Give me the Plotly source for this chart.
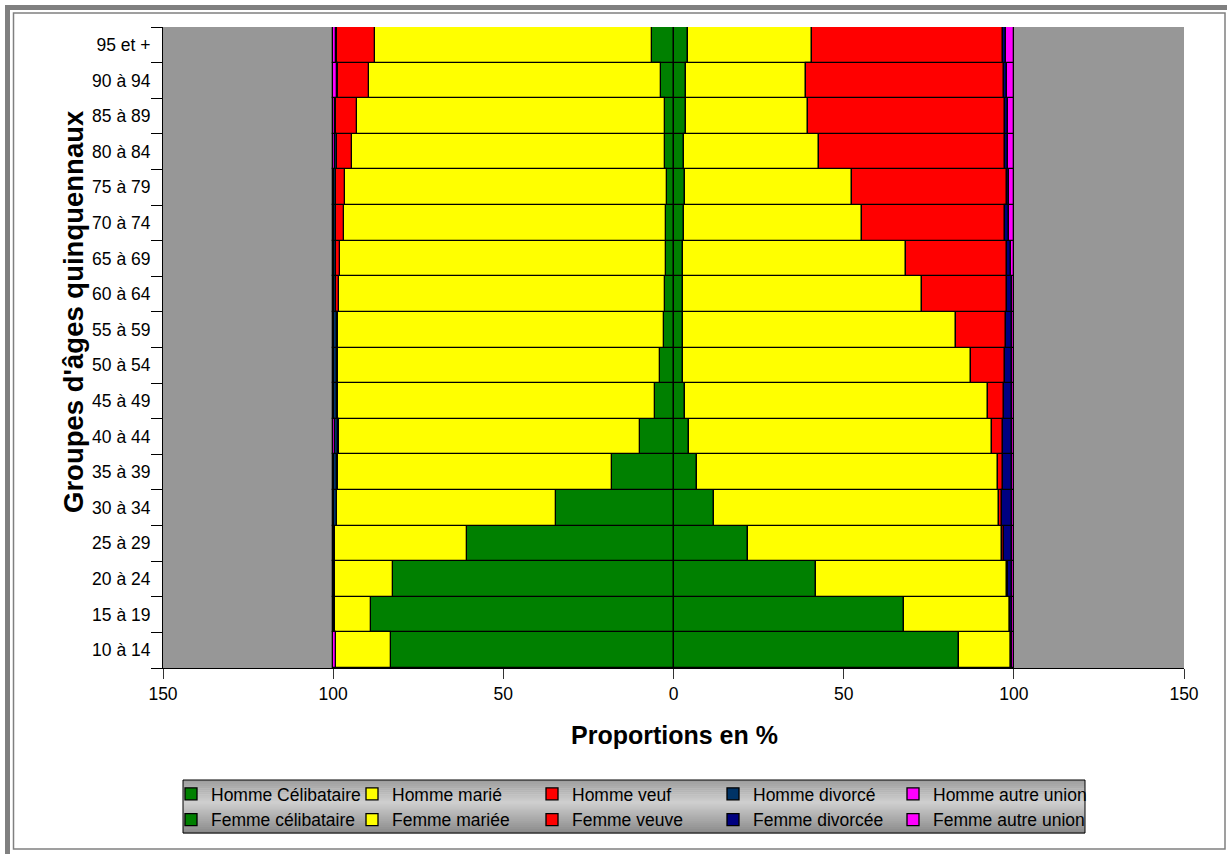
import plotly.graph_objects as go

# Age groups, bottom to top
ages = ["10 à 14", "15 à 19", "20 à 24", "25 à 29", "30 à 34", "35 à 39", "40 à 44",
        "45 à 49", "50 à 54", "55 à 59", "60 à 64", "65 à 69", "70 à 74", "75 à 79",
        "80 à 84", "85 à 89", "90 à 94", "95 et +"]

# Men (%), bottom to top
h_celib = [82.9, 88.8, 82.3, 60.7, 34.6, 18.2, 9.7, 5.4, 3.9, 2.8, 2.5, 2.2, 2.3, 2.0, 2.5, 2.5, 3.8, 6.3]
h_marie = [16.2, 10.6, 17.1, 38.7, 64.3, 80.5, 88.7, 93.1, 94.6, 95.8, 95.7, 95.8, 94.6, 94.6, 91.9, 90.5, 85.8, 81.4]
h_veuf = [0.1, 0.1, 0.1, 0.1, 0.1, 0.1, 0.2, 0.3, 0.3, 0.4, 1.0, 1.1, 2.3, 2.5, 4.6, 6.2, 9.0, 11.3]
h_divorce = [0.1, 0.2, 0.3, 0.4, 0.7, 0.9, 1.0, 1.0, 1.0, 0.8, 0.6, 0.6, 0.5, 0.6, 0.6, 0.4, 0.4, 0.3]
h_autre = [0.7, 0.3, 0.2, 0.1, 0.3, 0.3, 0.4, 0.2, 0.2, 0.2, 0.2, 0.3, 0.3, 0.3, 0.4, 0.4, 1.0, 0.7]

# Women (%), bottom to top
f_celib = [83.9, 67.7, 41.8, 21.8, 11.8, 7.0, 4.5, 3.5, 2.8, 2.7, 2.7, 2.8, 3.2, 3.3, 3.2, 3.7, 3.8, 4.3]
f_mariee = [15.2, 31.1, 56.1, 74.7, 83.7, 88.2, 89.2, 88.8, 84.7, 80.4, 70.4, 65.5, 52.3, 49.1, 39.6, 35.8, 35.0, 36.5]
f_veuve = [0.1, 0.1, 0.3, 0.7, 1.0, 1.5, 3.2, 4.9, 10.0, 14.7, 24.9, 29.7, 42.0, 45.5, 54.6, 58.0, 58.4, 56.0]
f_divorcee = [0.2, 0.6, 1.3, 2.3, 3.0, 2.9, 2.7, 2.4, 2.1, 1.7, 1.4, 1.2, 1.1, 0.8, 0.9, 0.8, 0.8, 0.9]
f_autre = [0.6, 0.5, 0.5, 0.5, 0.5, 0.4, 0.4, 0.4, 0.4, 0.5, 0.6, 0.8, 1.4, 1.3, 1.7, 1.7, 2.0, 2.3]

x_ticks = [-150, -100, -50, 0, 50, 100, 150]
x_tick_labels = ["150", "100", "50", "0", "50", "100", "150"]

FONT = "Arial, 'Liberation Sans', sans-serif"
FS = 17.5
GREEN, YELLOW, RED, MAGENTA = "#008000", "#FFFF00", "#FF0000", "#FF00FF"

# (name, values, colour, side, legend column)
series = [
    ("Homme Célibataire", h_celib, GREEN, -1, "legend"),
    ("Homme marié", h_marie, YELLOW, -1, "legend2"),
    ("Homme veuf", h_veuf, RED, -1, "legend3"),
    ("Homme divorcé", h_divorce, "#003366", -1, "legend4"),
    ("Homme autre union", h_autre, MAGENTA, -1, "legend5"),
    ("Femme célibataire", f_celib, GREEN, 1, "legend"),
    ("Femme mariée", f_mariee, YELLOW, 1, "legend2"),
    ("Femme veuve", f_veuve, RED, 1, "legend3"),
    ("Femme divorcée", f_divorcee, "#000080", 1, "legend4"),
    ("Femme autre union", f_autre, MAGENTA, 1, "legend5"),
]

fig = go.Figure()
for name, vals, color, sign, leg in series:
    fig.add_trace(go.Bar(
        y=ages, x=[sign * v for v in vals], name=name, orientation="h", legend=leg,
        marker=dict(color=color, line=dict(color="black", width=1.3)),
    ))

W, H = 1227, 854
L, R, T, B = 163, 43, 27, 186
pw, ph = W - L - R, H - T - B


def px(x):
    return (x - L) / pw


def py(y):
    return (H - B - y) / ph


shapes = [
    dict(type="line", xref="paper", yref="paper", x0=px(7.5), x1=px(7.5), y0=py(5), y1=py(854),
         line=dict(color="#808080", width=5)),
    dict(type="line", xref="paper", yref="paper", x0=px(5), x1=px(1227), y0=py(7.5), y1=py(7.5),
         line=dict(color="#808080", width=5)),
    dict(type="rect", xref="paper", yref="paper", x0=px(13.5), x1=px(1225), y0=py(13), y1=py(849),
         line=dict(color="#808080", width=1.5)),
]

# legend box with a metallic vertical gradient
lb_x0, lb_x1, lb_y0, lb_y1 = 183, 1085, 780, 833
nb = 26
for i in range(nb):
    t = (i + 0.5) / nb
    k = 1 - abs(t - 0.42) / 0.58
    g = int(138 + 70 * max(0.0, k))
    ya = lb_y0 + (lb_y1 - lb_y0) * i / nb
    yb = lb_y0 + (lb_y1 - lb_y0) * (i + 1) / nb + 0.6
    shapes.append(dict(type="rect", xref="paper", yref="paper", x0=px(lb_x0), x1=px(lb_x1),
                       y0=py(ya), y1=py(yb), line=dict(width=0),
                       fillcolor=f"rgb({g},{g},{g})"))
shapes.append(dict(type="rect", xref="paper", yref="paper", x0=px(lb_x0), x1=px(lb_x1),
                   y0=py(lb_y0), y1=py(lb_y1), line=dict(color="black", width=1)))

legend_x = [171, 352, 532, 713, 893]
legends = {}
for i, lx in enumerate(legend_x):
    key = "legend" if i == 0 else f"legend{i + 1}"
    legends[key] = dict(
        orientation="v", x=px(lx), xanchor="left", y=py(776), yanchor="top",
        bgcolor="rgba(0,0,0,0)", borderwidth=0,
        font=dict(family=FONT, size=FS, color="black"),
        traceorder="normal", itemclick=False, itemdoubleclick=False,
    )

annotations = [
    dict(text="<b>Proportions en %</b>", xref="paper", yref="paper", x=px(674), y=py(735),
         xanchor="center", yanchor="middle", showarrow=False,
         font=dict(family=FONT, size=25, color="black")),
    dict(text="<b>Groupes d'âges quinquennaux</b>", xref="paper", yref="paper", x=px(73), y=py(312),
         xanchor="center", yanchor="middle", showarrow=False, textangle=-90,
         font=dict(family=FONT, size=27.5, color="black")),
]

fig.update_layout(
    width=W, height=H,
    margin=dict(l=L, r=R, t=T, b=B),
    barmode="relative", bargap=0,
    paper_bgcolor="white", plot_bgcolor="#979797",
    font=dict(family=FONT, size=FS, color="black"),
    shapes=shapes,
    annotations=annotations,
    showlegend=True,
    xaxis=dict(
        range=[-150, 150], tickvals=x_ticks, ticktext=x_tick_labels,
        showgrid=False, zeroline=False, showline=True, linecolor="black", linewidth=1,
        ticks="outside", ticklen=10, tickcolor="#333",
        tickfont=dict(family=FONT, size=FS),
    ),
    yaxis=dict(
        type="category", categoryorder="array", categoryarray=ages,
        showgrid=False, zeroline=False, showline=True, linecolor="black", linewidth=1,
        ticks="outside", ticklen=11, tickcolor="black", tickson="boundaries",
        ticklabelstandoff=8,
        tickfont=dict(family=FONT, size=FS),
    ),
    **legends,
)

fig.write_html("out.html")
